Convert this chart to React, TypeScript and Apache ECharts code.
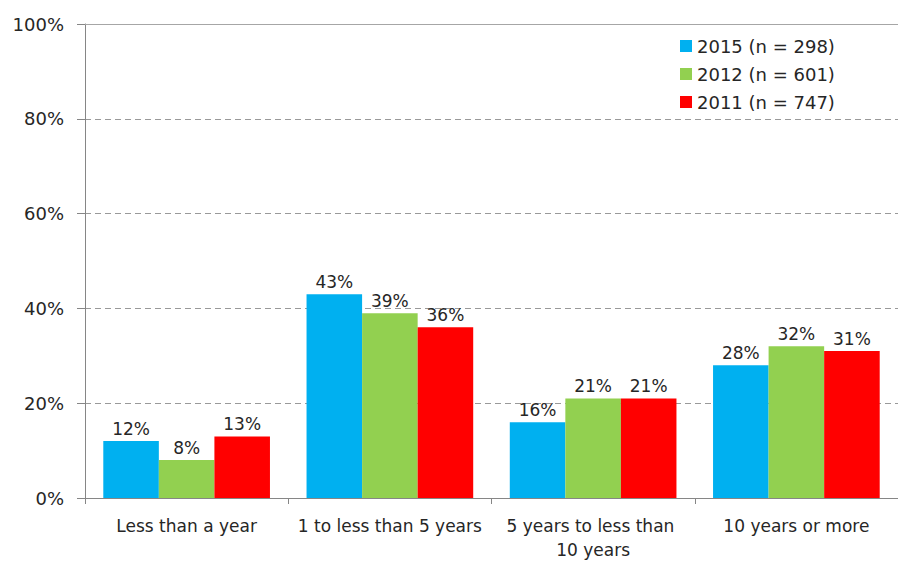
import React, { useEffect, useRef } from "react";
import * as echarts from "echarts";

const categories = ["Less than a year", "1 to less than 5 years", "5 years to less than 10 years", "10 years or more"];
const series2015 = [12, 43, 16, 28];
const series2012 = [8, 39, 21, 32];
const series2011 = [13, 36, 21, 31];
const seriesNames = ["2015 (n = 298)", "2012 (n = 601)", "2011 (n = 747)"];
const colors = ["#00B0F0", "#92D050", "#FF0000"];
const yTicks = [0, 20, 40, 60, 80, 100];

const FONT = "DejaVu Sans";
const TEXT = "#262626";
const AXIS = "#868686";

export default function App() {
  const ref = useRef<HTMLDivElement>(null);
  useEffect(() => {
    if (!ref.current) return;
    const chart = echarts.init(ref.current, undefined, { renderer: "svg" });
    const mk = (name: string, data: number[], color: string) => ({
      name,
      type: "bar",
      data,
      barGap: "0%",
      barCategoryGap: "18%",
      itemStyle: { color },
      label: {
        show: true,
        position: "top",
        distance: 4,
        formatter: (p: any) => `${p.value}%`,
        fontFamily: FONT,
        fontSize: 17,
        color: TEXT,
      },
    });
    chart.setOption({
      animation: false,
      backgroundColor: "#ffffff",
      textStyle: { fontFamily: FONT },
      grid: { left: 85, right: 0, top: 24, bottom: 63, containLabel: false },
      legend: {
        orient: "vertical",
        left: 675,
        top: 32,
        itemWidth: 12,
        itemHeight: 12,
        itemGap: 10,
        icon: "rect",
        data: seriesNames,
        textStyle: { fontFamily: FONT, fontSize: 18, color: TEXT, lineHeight: 18 },
      },
      xAxis: [
        {
          type: "category",
          data: categories,
          axisLine: { show: true, lineStyle: { color: AXIS, width: 1 } },
          axisTick: { show: true, length: 6, lineStyle: { color: AXIS } },
          axisLabel: {
            fontFamily: FONT,
            fontSize: 17,
            color: TEXT,
            margin: 16,
            interval: 0,
            width: 189,
            overflow: "break",
            lineHeight: 24,
          },
        },
        {
          type: "category",
          position: "top",
          data: categories,
          axisLine: { show: true, lineStyle: { color: "#a6a6a6", width: 1 } },
          axisTick: { show: false },
          axisLabel: { show: false },
        },
      ],
      yAxis: {
        type: "value",
        min: 0,
        max: 100,
        interval: 20,
        axisLine: { show: true, lineStyle: { color: AXIS, width: 1 } },
        axisTick: { show: true, length: 8, lineStyle: { color: AXIS } },
        axisLabel: {
          fontFamily: FONT,
          fontSize: 18,
          color: TEXT,
          margin: 21,
          formatter: (v: number) => (yTicks.includes(v) ? `${v}%` : ""),
        },
        splitLine: { show: true, lineStyle: { color: "#999999", type: [6, 4], width: 1 } },
      },
      series: [
        mk(seriesNames[0], series2015, colors[0]),
        mk(seriesNames[1], series2012, colors[1]),
        mk(seriesNames[2], series2011, colors[2]),
      ],
    });
    return () => chart.dispose();
  }, []);
  return (
    <div
      ref={ref}
      style={{ position: "fixed", left: 0, top: 0, width: 898, height: 562, background: "#fff" }}
    />
  );
}
